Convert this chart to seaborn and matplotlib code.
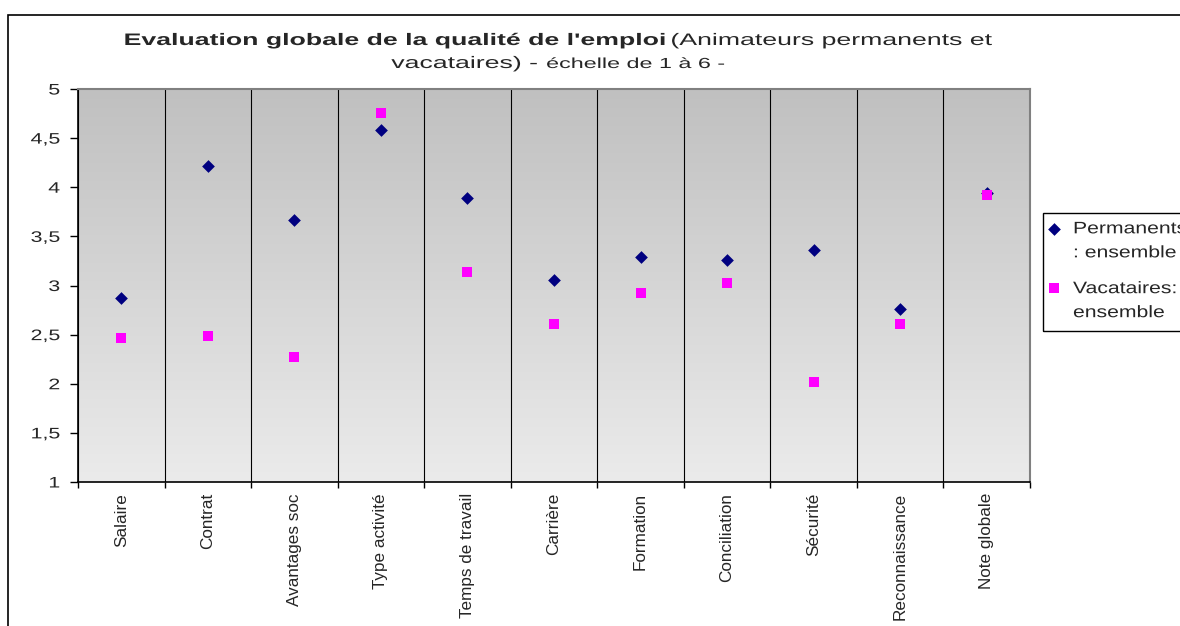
import numpy as np
import pandas as pd
import matplotlib
matplotlib.use("Agg")
import matplotlib.pyplot as plt
import seaborn as sns
from matplotlib.patches import Rectangle
from matplotlib.ticker import FuncFormatter
from matplotlib.patheffects import AbstractPathEffect
from matplotlib.transforms import Affine2D

categories = ["Salaire", "Contrat", "Avantages soc", "Type activité", "Temps de travail",
              "Carrière", "Formation", "Conciliation", "Sécurité", "Reconnaissance", "Note globale"]
permanents = [2.87, 4.22, 3.67, 4.58, 3.89, 3.06, 3.29, 3.26, 3.36, 2.76, 3.94]
vacataires = [2.47, 2.49, 2.27, 4.76, 3.14, 2.61, 2.92, 3.03, 2.02, 2.61, 3.92]
series_names = ["Permanents\n: ensemble", "Vacataires:\nensemble"]
yticks = [1, 1.5, 2, 2.5, 3, 3.5, 4, 4.5, 5]


class HStretch(AbstractPathEffect):
    """Draw text glyphs stretched horizontally (wide Excel-like rendering)."""
    def __init__(self, sx, anchor="origin"):
        super().__init__((0, 0))
        self.sx = sx
        self.anchor = anchor

    def draw_path(self, renderer, gc, tpath, affine, rgbFace=None):
        if self.anchor == "origin":
            x0 = affine.get_matrix()[0, 2]
        else:
            ext = tpath.get_extents(affine)
            x0 = ext.x1 if self.anchor == "right" else (ext.x0 + ext.x1) / 2
        t = affine + Affine2D().translate(-x0, 0).scale(self.sx, 1).translate(x0, 0)
        renderer.draw_path(gc, tpath, t, rgbFace)


sns.set_theme(style="white")
plt.rcParams['font.family'] = ['Liberation Sans', 'DejaVu Sans']

df_p = pd.DataFrame({"pos": range(len(categories)), "val": permanents})
df_v = pd.DataFrame({"pos": range(len(categories)), "val": vacataires})

fig = plt.figure(figsize=(11.8, 6.26), dpi=100)
fig.patch.set_facecolor("white")
ax = fig.add_axes([78 / 1180, 1 - 482 / 626, (1030 - 78) / 1180, (482 - 89) / 626])

# gradient background
grad = np.linspace(0, 1, 256).reshape(-1, 1)
top = np.array([192, 192, 192]) / 255
bot = np.array([235, 235, 235]) / 255
img = (top + (bot - top) * grad).reshape(256, 1, 3)
ax.imshow(img, extent=[0, 1, 0, 1], transform=ax.transAxes, aspect="auto", zorder=0)

sns.scatterplot(data=df_p, x="pos", y="val", color="#000080", marker="D", s=42,
                linewidth=0, ax=ax, zorder=3, label=series_names[0])
sns.scatterplot(data=df_v, x="pos", y="val", color="#FF00FF", marker="s", s=58,
                linewidth=0, ax=ax, zorder=3, label=series_names[1])

n = len(categories)
ax.set_xlim(-0.5, n - 0.5)
ax.set_ylim(1, 5)
ax.set_xticks(range(n))
ax.set_xticklabels(categories, rotation=90, fontsize=12.3, va="top", ha="center")
ax.set_xticks(np.arange(-0.5, n, 1), minor=True)
ax.tick_params(axis="x", which="major", length=0, pad=8)
ax.tick_params(axis="x", which="minor", length=4, width=1, color="black", direction="out", bottom=True)
ax.grid(True, which="minor", axis="x", color="black", linewidth=0.8)
ax.grid(False, which="major")
ax.set_yticks(yticks)
ax.yaxis.set_major_formatter(FuncFormatter(lambda v, p: (f"{v:g}").replace(".", ",")))
ax.tick_params(axis="y", length=6, width=1, color="black", direction="out", left=True,
               labelsize=11, pad=7)
ax.set_xlabel("")
ax.set_ylabel("")
for s in ["left", "bottom"]:
    ax.spines[s].set_color("black")
    ax.spines[s].set_linewidth(1.2)
for s in ["top", "right"]:
    ax.spines[s].set_color("#808080")
    ax.spines[s].set_linewidth(1.5)

handles, labels = ax.get_legend_handles_labels()
ax.get_legend().remove()
leg = fig.legend(handles, labels, loc="upper left",
                 bbox_to_anchor=(1043 / 1180, 1 - 213 / 626), borderaxespad=0,
                 frameon=False, fontsize=12, handletextpad=1.0, handlelength=0.3,
                 labelspacing=1.25, borderpad=0.5)
for t in leg.get_texts():
    t.set_linespacing(1.75)
    t.set_path_effects([HStretch(1.27, "origin")])
try:
    for col in leg._legend_handle_box.get_children():
        for item in col.get_children():
            item.align = "top"
except Exception:
    pass
fig.patches.append(Rectangle((1043 / 1180, 1 - 331 / 626), 0.2, (331 - 213) / 626,
                             transform=fig.transFigure, fill=False, edgecolor="black",
                             linewidth=1.0))

# outer border
fig.patches.append(Rectangle((8 / 1180, -0.1), 1.2, 1.1 - 15 / 626, transform=fig.transFigure,
                             fill=False, edgecolor="black", linewidth=1.2))

fig.canvas.draw()
r = fig.canvas.get_renderer()

# title pieces (stretched horizontally like the original rendering)
SX = 1.6


def place_line(pieces, y_px, cx_px):
    texts = []
    for txt, kw in pieces:
        t = fig.text(0, 1 - y_px / 626, txt, va="baseline", ha="left", **kw)
        t.set_path_effects([HStretch(SX, "origin")])
        texts.append(t)
    widths = [t.get_window_extent(renderer=r).width * SX for t in texts]
    x = cx_px - sum(widths) / 2
    for t, w in zip(texts, widths):
        t.set_x(x / 1180)
        x += w


place_line([("Evaluation globale de la qualité de l'emploi", dict(fontsize=12, fontweight="bold")),
            (" (Animateurs permanents et", dict(fontsize=12))], 45, 558)
place_line([("vacataires) - ", dict(fontsize=12)),
            ("échelle de 1 à 6 -", dict(fontsize=10.5))], 68, 559)

fig.canvas.draw()
for t in ax.yaxis.get_ticklabels():
    t.set_path_effects([HStretch(1.4, "right")])

fig.savefig("out.png", dpi=100)
